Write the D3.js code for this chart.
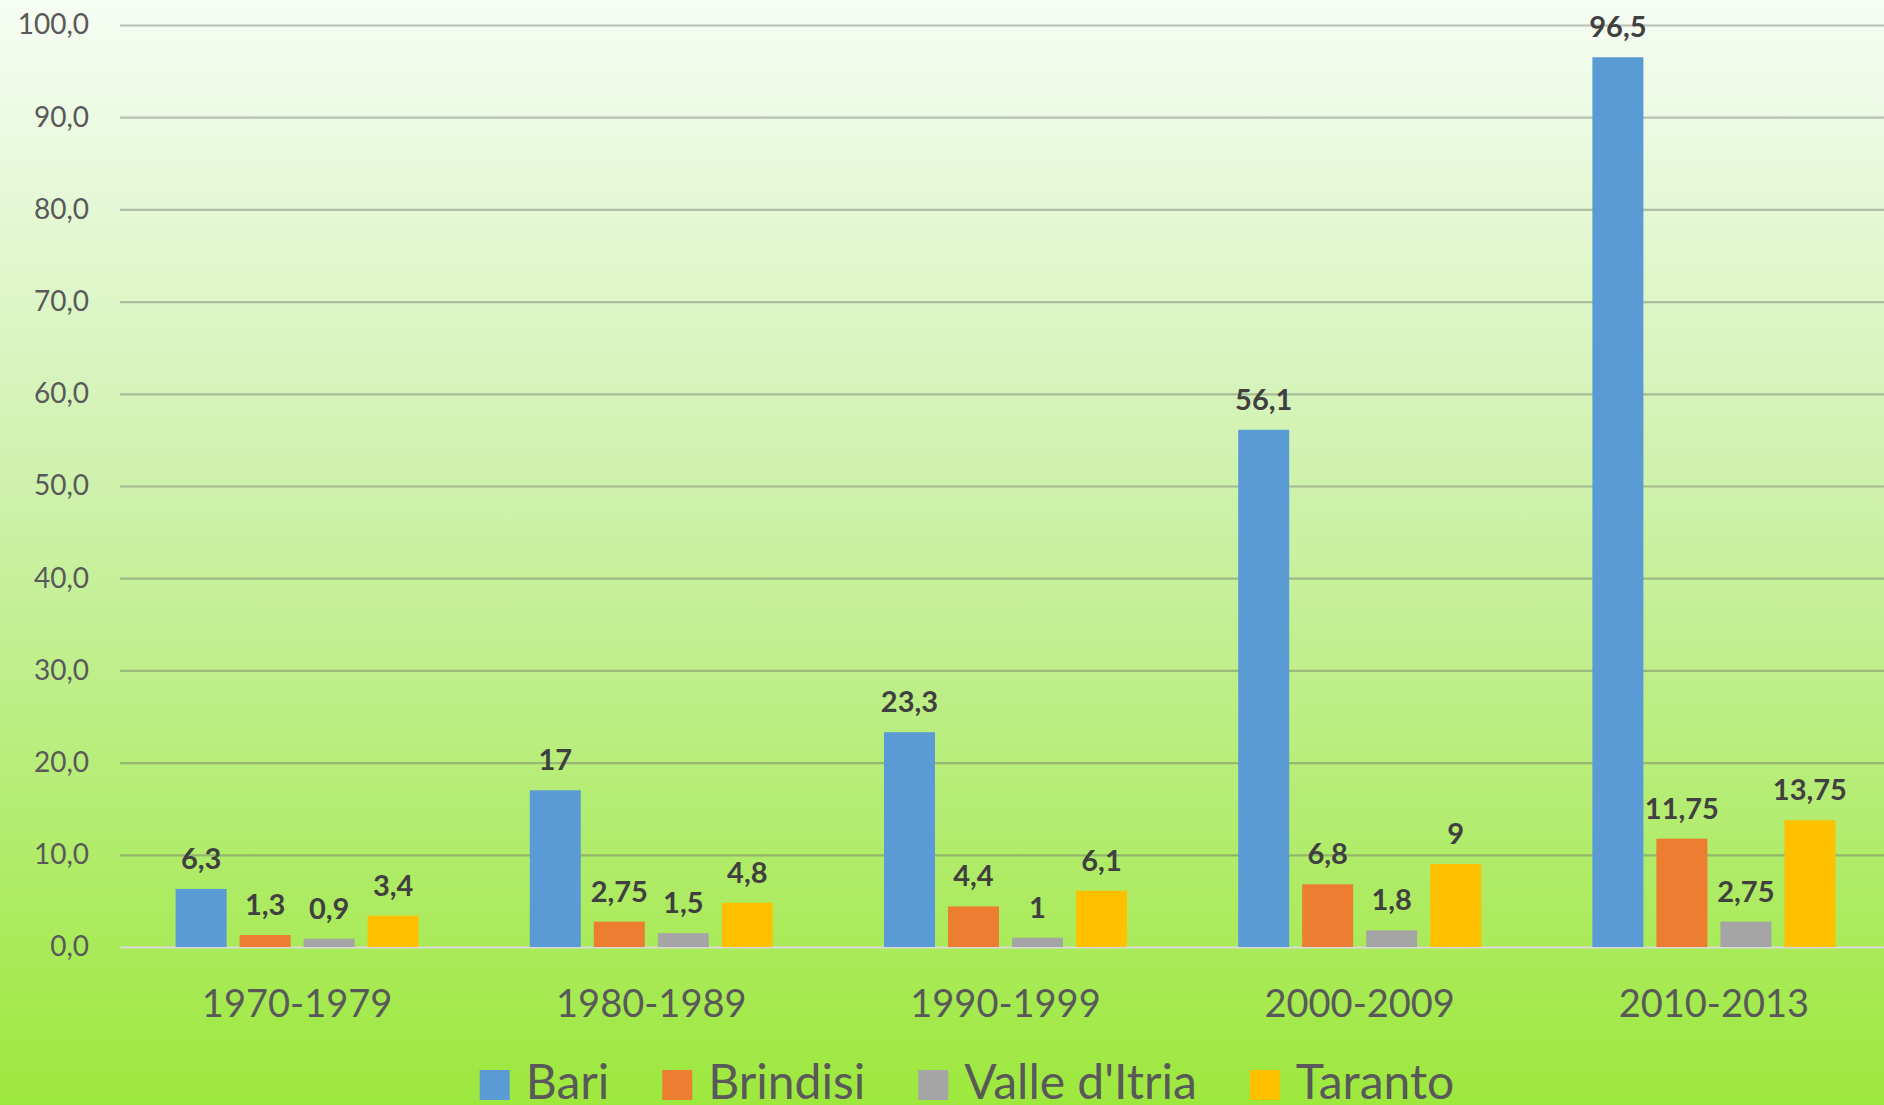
<!DOCTYPE html>
<html>
<head>
<meta charset="utf-8">
<script src="https://cdn.jsdelivr.net/npm/d3@7"></script>
<style>
  body { margin: 0; overflow: hidden; }
  text { font-family: Lato, "Open Sans", sans-serif; }
</style>
</head>
<body>
<svg id="chart"></svg>
<script>
const categories = ["1970-1979", "1980-1989", "1990-1999", "2000-2009", "2010-2013"];
const seriesNames = ["Bari", "Brindisi", "Valle d'Itria", "Taranto"];
const bari = [6.3, 17, 23.3, 56.1, 96.5];
const brindisi = [1.3, 2.75, 4.4, 6.8, 11.75];
const valleItria = [0.9, 1.5, 1, 1.8, 2.75];
const taranto = [3.4, 4.8, 6.1, 9, 13.75];
const yTicks = [0, 10, 20, 30, 40, 50, 60, 70, 80, 90, 100];

const colors = ["#5b9bd5", "#ed7d31", "#a5a5a5", "#ffc000"];
const seriesValues = [bari, brindisi, valleItria, taranto];

const chart = () => {
  const w = 1884;
  const h = 1105;
  const left = 120;
  const right = 1891;
  const top = 25;
  const bottom = 947;
  const comma = (v) => String(v).replace(".", ",");

  const svg = d3.select("#chart").attr("width", w).attr("height", h);

  // background gradient
  const grad = svg
    .append("defs")
    .append("linearGradient")
    .attr("id", "bg")
    .attr("x1", 0)
    .attr("y1", 0)
    .attr("x2", 0)
    .attr("y2", 1);
  grad.append("stop").attr("offset", "0%").attr("stop-color", "#f6fdf4");
  grad.append("stop").attr("offset", "45%").attr("stop-color", "#cdf1aa");
  grad.append("stop").attr("offset", "100%").attr("stop-color", "#9de83d");
  svg.append("rect").attr("width", w).attr("height", h).attr("fill", "url(#bg)");

  const yScale = d3.scaleLinear().domain([0, 100]).range([bottom, top]);
  const xScale = d3.scaleBand().domain(categories).range([left, right]);
  const bw = xScale.bandwidth();
  const barStep = bw * 0.1807;
  const barWidth = bw * 0.144;
  const groupOffset = (bw - (barStep * 3 + barWidth)) / 2;

  // gridlines + y labels
  const yAxis = d3
    .axisLeft(yScale)
    .tickValues(yTicks)
    .tickSize(-(right - left))
    .tickPadding(31)
    .tickFormat((d) => comma(d.toFixed(1)));
  const yg = svg
    .append("g")
    .attr("transform", "translate(" + left + ",0)")
    .call(yAxis);
  yg.select(".domain").remove();
  yg.selectAll(".tick line")
    .attr("stroke", (d) => (d === 0 ? "#d9d9d9" : "rgba(105,110,105,0.42)"))
    .attr("stroke-width", 2.2);
  yg.selectAll(".tick text")
    .attr("fill", "#595959")
    .style("font-size", "28px");

  // bars
  seriesValues.forEach((vals, s) => {
    const g = svg.append("g");
    g.selectAll("rect")
      .data(vals)
      .enter()
      .append("rect")
      .attr("x", (d, i) => xScale(categories[i]) + groupOffset + s * barStep)
      .attr("y", (d) => yScale(d))
      .attr("width", barWidth)
      .attr("height", (d) => yScale(0) - yScale(d))
      .attr("fill", colors[s]);
    g.selectAll("text")
      .data(vals)
      .enter()
      .append("text")
      .attr("x", (d, i) => xScale(categories[i]) + groupOffset + s * barStep + barWidth / 2)
      .attr("y", (d) => yScale(d) - 20)
      .attr("text-anchor", "middle")
      .attr("fill", "#404040")
      .style("font-size", "29px")
      .style("font-weight", "bold")
      .text((d) => comma(d));
  });

  // category labels
  svg
    .append("g")
    .selectAll("text")
    .data(categories)
    .enter()
    .append("text")
    .attr("x", (d) => xScale(d) + bw / 2)
    .attr("y", 1017)
    .attr("text-anchor", "middle")
    .attr("fill", "#595959")
    .style("font-size", "38px")
    .text((d) => d);

  // legend
  const legend = svg.append("g").attr("id", "legend");
  let x = 0;
  seriesNames.forEach((name, i) => {
    legend
      .append("rect")
      .attr("x", x)
      .attr("y", 1070)
      .attr("width", 30)
      .attr("height", 30)
      .attr("fill", colors[i]);
    const t = legend
      .append("text")
      .attr("x", x + 46)
      .attr("y", 1099)
      .attr("fill", "#595959")
      .style("font-size", "48px")
      .text(name);
    x += 46 + t.node().getComputedTextLength() + 53;
  });
  const legendWidth = x - 53;
  legend.attr("transform", "translate(" + (967 - legendWidth / 2) + ",0)");
};

chart();
</script>
</body>
</html>
